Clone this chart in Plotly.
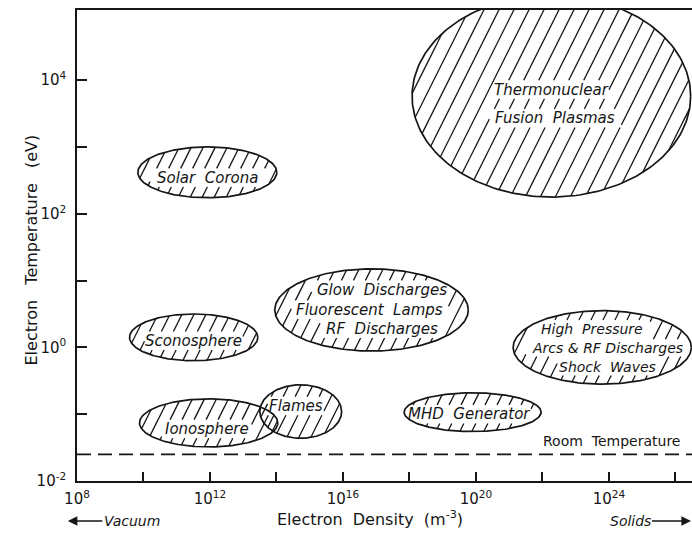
import numpy as np
import plotly.graph_objects as go

# Plasma regimes as ellipses in log10 space:
# electron density n (m^-3) on x, electron temperature T (eV) on y
REGIONS = ["Thermonuclear Fusion Plasmas", "Solar Corona", "Glow Discharges",
           "Sconosphere", "Ionosphere", "Flames", "MHD Generator",
           "High Pressure Arcs"]
LOG_N_CENTER = [22.27, 11.92, 16.86, 11.51, 11.96, 14.73, 19.90, 23.80]
LOG_T_CENTER = [3.76, 2.62, 0.56, 0.15, -1.13, -0.96, -0.97, 0.00]
LOG_N_HALF = [4.19, 2.09, 2.91, 1.93, 2.08, 1.23, 2.06, 2.68]
LOG_T_HALF = [1.51, 0.38, 0.615, 0.35, 0.36, 0.40, 0.29, 0.55]

# Text written inside the regions (one entry per line of text)
LABELS = ["Thermonuclear", "Fusion  Plasmas", "Solar  Corona",
          "Glow  Discharges", "Fluorescent  Lamps", "RF  Discharges",
          "Sconosphere", "Ionosphere", "Flames", "MHD  Generator",
          "High  Pressure", "Arcs & RF Discharges", "Shock  Waves"]
LABEL_LOG_N = [22.27, 22.39, 11.93, 17.17, 16.81, 17.17, 11.51, 11.90,
               14.58, 19.80, 23.50, 23.95, 23.95]
LABEL_LOG_T = [3.86, 3.43, 2.54, 0.864, 0.564, 0.279, 0.099, -1.22,
               -0.876, -1.00, 0.279, -0.006, -0.291]
LABEL_SIZE = [15, 15, 15, 15, 15, 15, 15, 15, 15, 15, 14, 14, 14]

ROOM_T = 0.025  # eV

X_LABELED = [8, 12, 16, 20, 24]
X_TICK_TEXT = ["10<sup>8</sup>", "10<sup>12</sup>", "10<sup>16</sup>",
               "10<sup>20</sup>", "10<sup>24</sup>"]
X_MINOR = [10, 14, 18, 22, 26]
Y_LABELED = [-2, 0, 2, 4]
Y_TICK_TEXT = ["10<sup>-2</sup>", "10<sup>0</sup>", "10<sup>2</sup>", "10<sup>4</sup>"]
Y_MINOR = [-1, 1, 3]

# ---- layout geometry ----
W, H = 692, 541
ML, MR, MT, MB = 77, 0, 10, 60
X_RANGE = [8, 26.5]
Y_RANGE = [-2, 5.05]
SX = (W - ML - MR) / (X_RANGE[1] - X_RANGE[0])   # px per decade
SY = (H - MT - MB) / (Y_RANGE[1] - Y_RANGE[0])

INK = "#161616"
FONT = "DejaVu Sans"

# rectangles (screen units) kept free of hatching behind the text
gaps = []
for txt, lx, ly, sz in zip(LABELS, LABEL_LOG_N, LABEL_LOG_T, LABEL_SIZE):
    hw = len(txt) * 0.56 * sz / 2 + 3
    hh = 0.62 * sz
    gaps.append((lx * SX - hw, lx * SX + hw, ly * SY - hh, ly * SY + hh))


def hatch(cx, cy, a, b, step, k=0.5):
    """Slanted hatch strokes clipped to the ellipse and around the text."""
    CX, CY, A, B = cx * SX, cy * SY, a * SX, b * SY
    xs, ys = [], []
    lim = np.sqrt(A ** 2 + (k * B) ** 2)
    for c in np.arange(-lim + step * 0.5, lim, step):
        al = k * k / A ** 2 + 1 / B ** 2
        be = 2 * c * k / A ** 2
        ga = c * c / A ** 2 - 1
        disc = be * be - 4 * al * ga
        if disc <= 0:
            continue
        v1 = (-be - np.sqrt(disc)) / (2 * al)
        v2 = (-be + np.sqrt(disc)) / (2 * al)
        x0 = CX + c - k * CY
        pieces = [(CY + v1, CY + v2)]
        for xl, xh, yl, yh in gaps:
            lo = max(yl, (xl - x0) / k)
            hi = min(yh, (xh - x0) / k)
            if lo >= hi:
                continue
            new = []
            for p, q in pieces:
                if hi <= p or lo >= q:
                    new.append((p, q))
                    continue
                if lo > p:
                    new.append((p, lo))
                if hi < q:
                    new.append((hi, q))
            pieces = new
        for p, q in pieces:
            if q - p < 2:
                continue
            for y in (p, q):
                xs.append(float(10.0 ** ((x0 + k * y) / SX)))
                ys.append(float(10.0 ** (y / SY)))
            xs.append(None)
            ys.append(None)
    return xs, ys


fig = go.Figure()

t = np.linspace(0, 2 * np.pi, 240)
for i, name in enumerate(REGIONS):
    cx, cy = LOG_N_CENTER[i], LOG_T_CENTER[i]
    a, b = LOG_N_HALF[i], LOG_T_HALF[i]
    fig.add_trace(go.Scatter(
        x=10.0 ** (cx + a * np.cos(t)), y=10.0 ** (cy + b * np.sin(t)),
        mode="lines", line=dict(color=INK, width=1.7),
        name=name, hoverinfo="skip", showlegend=False))
    hx, hy = hatch(cx, cy, a, b, 15 if i == 0 else 12)
    fig.add_trace(go.Scatter(
        x=hx, y=hy, mode="lines", line=dict(color=INK, width=1.3),
        hoverinfo="skip", showlegend=False))

# room temperature reference line
fig.add_trace(go.Scatter(
    x=[10.0 ** X_RANGE[0], 10.0 ** X_RANGE[1]], y=[ROOM_T, ROOM_T], mode="lines",
    line=dict(color=INK, width=1.6, dash="14px,7px"),
    hoverinfo="skip", showlegend=False))

annotations = []
for txt, lx, ly, sz in zip(LABELS, LABEL_LOG_N, LABEL_LOG_T, LABEL_SIZE):
    annotations.append(dict(
        x=lx, y=ly, xref="x", yref="y", text=txt, showarrow=False,
        font=dict(family=FONT, size=sz, color=INK, style="italic")))

annotations += [
    dict(x=26.2, y=float(np.log10(ROOM_T)), xref="x", yref="y",
         text="Room  Temperature", showarrow=False, xanchor="right",
         yanchor="bottom", yshift=3,
         font=dict(family=FONT, size=14, color=INK)),
    dict(x=0.476, y=-0.107, xref="paper", yref="paper",
         text="Electron  Density  (m<sup>-3</sup>)", showarrow=False,
         font=dict(family=FONT, size=16, color=INK)),
    dict(x=-0.093, y=0.49, xref="paper", yref="paper", textangle=-90,
         text="Electron   Temperature   (eV)", showarrow=False,
         font=dict(family=FONT, size=16, color=INK)),
    dict(x=-0.015, y=-0.085, xref="paper", yref="paper", text="Vacuum",
         showarrow=True, ax=64, ay=0, arrowhead=2, arrowsize=1.2,
         arrowwidth=1.6, arrowcolor=INK,
         font=dict(family=FONT, size=14, color=INK, style="italic")),
    dict(x=1.0, y=-0.085, xref="paper", yref="paper", text="Solids",
         showarrow=True, ax=-62, ay=0, arrowhead=2, arrowsize=1.2,
         arrowwidth=1.6, arrowcolor=INK,
         font=dict(family=FONT, size=14, color=INK, style="italic")),
]

fig.update_layout(
    width=W, height=H,
    margin=dict(l=ML, r=MR, t=MT, b=MB),
    paper_bgcolor="white", plot_bgcolor="white",
    showlegend=False,
    annotations=annotations,
    xaxis=dict(type="log", range=X_RANGE,
               tickvals=[10.0 ** v for v in X_LABELED], ticktext=X_TICK_TEXT,
               ticks="inside", ticklen=9, tickwidth=1.5, tickcolor=INK,
               minor=dict(tickvals=[10.0 ** v for v in X_MINOR], ticks="inside",
                          ticklen=9, tickwidth=1.5, tickcolor=INK, showgrid=False),
               showline=True, linecolor=INK, linewidth=1.6, mirror=True,
               showgrid=False, zeroline=False, ticklabelstandoff=3,
               tickfont=dict(family=FONT, size=15, color=INK)),
    yaxis=dict(type="log", range=Y_RANGE,
               tickvals=[10.0 ** v for v in Y_LABELED], ticktext=Y_TICK_TEXT,
               ticks="inside", ticklen=10, tickwidth=1.5, tickcolor=INK,
               minor=dict(tickvals=[10.0 ** v for v in Y_MINOR], ticks="inside",
                          ticklen=10, tickwidth=1.5, tickcolor=INK, showgrid=False),
               showline=True, linecolor=INK, linewidth=1.6, mirror=False,
               showgrid=False, zeroline=False, ticklabelstandoff=6,
               tickfont=dict(family=FONT, size=15, color=INK)),
)

fig.write_html("out.html")
